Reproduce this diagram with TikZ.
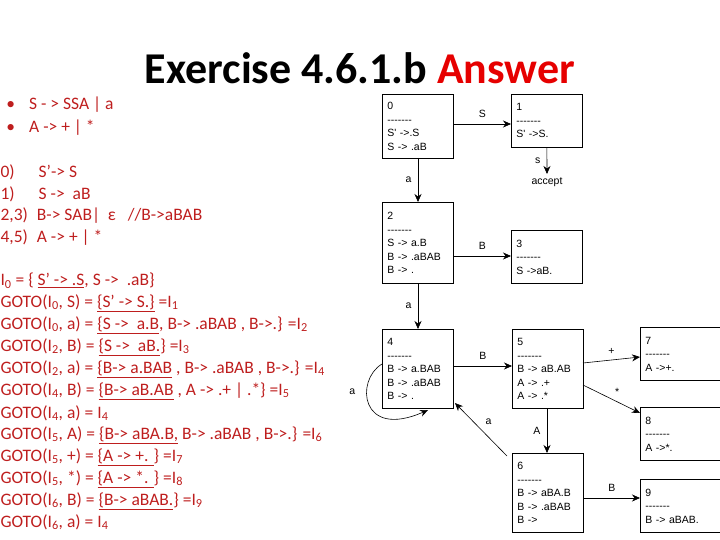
\documentclass[tikz,border=0pt]{standalone}
\usepackage{fontspec}
\setmainfont{Carlito}
\newfontfamily\boxfont{Liberation Sans}
\usetikzlibrary{arrows.meta}
\definecolor{slidered}{RGB}{190,30,30}
\definecolor{titlered}{RGB}{230,0,0}
\tikzset{
  state/.style={draw, thick, anchor=north west, align=left, inner sep=5pt,
    font=\boxfont\fontsize{10.5}{13.5}\selectfont, text width=61pt},
  wide/.style={text width=80pt},
  trans/.style={-{Stealth[length=8pt,width=7pt]}, semithick},
  lab/.style={font=\boxfont\fontsize{10.5}{12}\selectfont},
  line/.style={anchor=west, text=slidered, font=\fontsize{17.5}{20}\selectfont}
}
\newcommand{\Isub}[1]{I\textsubscript{#1}}
\begin{document}
\begin{tikzpicture}[x=1pt,y=-1pt]
\useasboundingbox (0,0) rectangle (720,540);
\begin{scope}
\clip (0,0) rectangle (720,540);
% title
\node[font=\bfseries\fontsize{44}{46}\selectfont] (title) at (360,68) {Exercise 4.6.1.b \textcolor{titlered}{Answer}};

% grammar
\node[line] (g1) at (0,105) {\,\textbullet\hspace{14pt}S - > SSA | a};
\node[line] (g2) at (0,128) {\,\textbullet\hspace{14pt}A -> + | *};
\node[line] (r0) at (-3,172) {0)\hspace{24pt}S’-> S};
\node[line] (r1) at (-3,194) {1)\hspace{24pt}S -> \ aB};
\node[line] (r2) at (-3,216) {2,3)\hspace{5pt} B-> SAB| \ ε \ \ //B->aBAB};
\node[line] (r4) at (-3,238) {4,5)\hspace{5pt} A -> + | *};

% item sets
\node[line] (i0) at (-3,281) {\Isub{0} = \{ \underline{S’ -> .S}, S -> \ .aB\}};
\node[line] (i1) at (-3,303) {GOTO(\Isub{0}, S) = \underline{\{S’ -> S.\}} =\Isub{1}};
\node[line] (i2) at (-3,325) {GOTO(\Isub{0}, a) = \underline{\{S -> \ a.B}, B-> .aBAB , B->.\} =\Isub{2}};
\node[line] (i3) at (-3,347) {GOTO(\Isub{2}, B) = \underline{\{S -> \ aB.}\} =\Isub{3}};
\node[line] (i4) at (-3,369) {GOTO(\Isub{2}, a) = \underline{\{B-> a.BAB} , B-> .aBAB , B->.\} =\Isub{4}};
\node[line] (i5) at (-3,391) {GOTO(\Isub{4}, B) = \underline{\{B-> aB.AB} , A -> .+ | .*\} =\Isub{5}};
\node[line] (i6) at (-3,413) {GOTO(\Isub{4}, a) = \Isub{4}};
\node[line] (i7) at (-3,435) {GOTO(\Isub{5}, A) = \underline{\{B-> aBA.B,} B-> .aBAB , B->.\} =\Isub{6}};
\node[line] (i8) at (-3,457) {GOTO(\Isub{5}, +) = \underline{\{A -> +. }\} =\Isub{7}};
\node[line] (i9) at (-3,479) {GOTO(\Isub{5}, *) = \underline{\{A -> *. }\} =\Isub{8}};
\node[line] (i10) at (-3,501) {GOTO(\Isub{6}, B) = \underline{\{B-> aBAB.}\} =\Isub{9}};
\node[line] (i11) at (-3,522) {GOTO(\Isub{6}, a) = \Isub{4}};

% states
\node[state, minimum height=64pt] (s0) at (382,94) {0\\-------\\S' ->.S\\S -> .aB};
\node[state, minimum height=53pt] (s1) at (511,94) {1\\-------\\S' ->S.};
\node[lab] (acc) at (547,182) {accept};
\node[state, minimum height=81pt] (s2) at (382,202) {2\\-------\\S -> a.B\\B -> .aBAB\\B -> .};
\node[state, minimum height=53pt] (s3) at (511,230) {3\\-------\\S ->aB.};
\node[state, minimum height=79pt] (s4) at (382,329) {4\\-------\\B -> a.BAB\\B -> .aBAB\\B -> .};
\node[state, minimum height=79pt] (s5) at (512,329) {5\\-------\\B -> aB.AB\\A -> .+\\A -> .*};
\node[state, wide, minimum height=53pt] (s7) at (640,327) {7\\-------\\A ->+.};
\node[state, wide, minimum height=53pt] (s8) at (640,407) {8\\-------\\A ->*.};
\node[state, minimum height=79pt] (s6) at (512,453) {6\\-------\\B -> aBA.B\\B -> .aBAB\\B ->};
\node[state, wide, minimum height=53pt] (s9) at (640,479) {9\\-------\\B -> aBAB.};

% transitions
\draw[trans] (s0.east |- 0,124) -- node[lab, above=3pt] {S} (s1.west |- 0,124);
\draw[trans] (s1.south) -- node[lab, left=3pt] {s} (acc.north);
\draw[trans] (418,158) -- node[lab, left=3pt] {a} (s2.north -| 418,0);
\draw[trans] (s2.east |- 0,256) -- node[lab, above=3pt] {B} (s3.west |- 0,256);
\draw[trans] (418,283) -- node[lab, left=3pt] {a} (s4.north -| 418,0);
\draw[trans] (s4.east |- 0,366) -- node[lab, above=3pt] {B} (s5.west |- 0,366);
\draw[trans] (583,363) -- node[lab, above=2pt] {+} (s7.west |- 0,357);
\draw[trans] (583,385) -- node[lab, above right=0pt] {*} (s8.west |- 0,413);
\draw[trans] (s5.south -| 547,0) -- node[lab, left=3pt] {A} (s6.north -| 547,0);
\draw[trans] (507,456) -- node[lab, above right=1pt] {a} (455,403);
\draw[trans] (s6.east |- 0,498) -- node[lab, above=3pt] {B} (s9.west |- 0,498);
\draw[trans] (382,364) .. controls (355,380) and (360,440) .. node[lab, pos=0.35, left=8pt] {a} (428,410);
\end{scope}
\end{tikzpicture}
\end{document}
